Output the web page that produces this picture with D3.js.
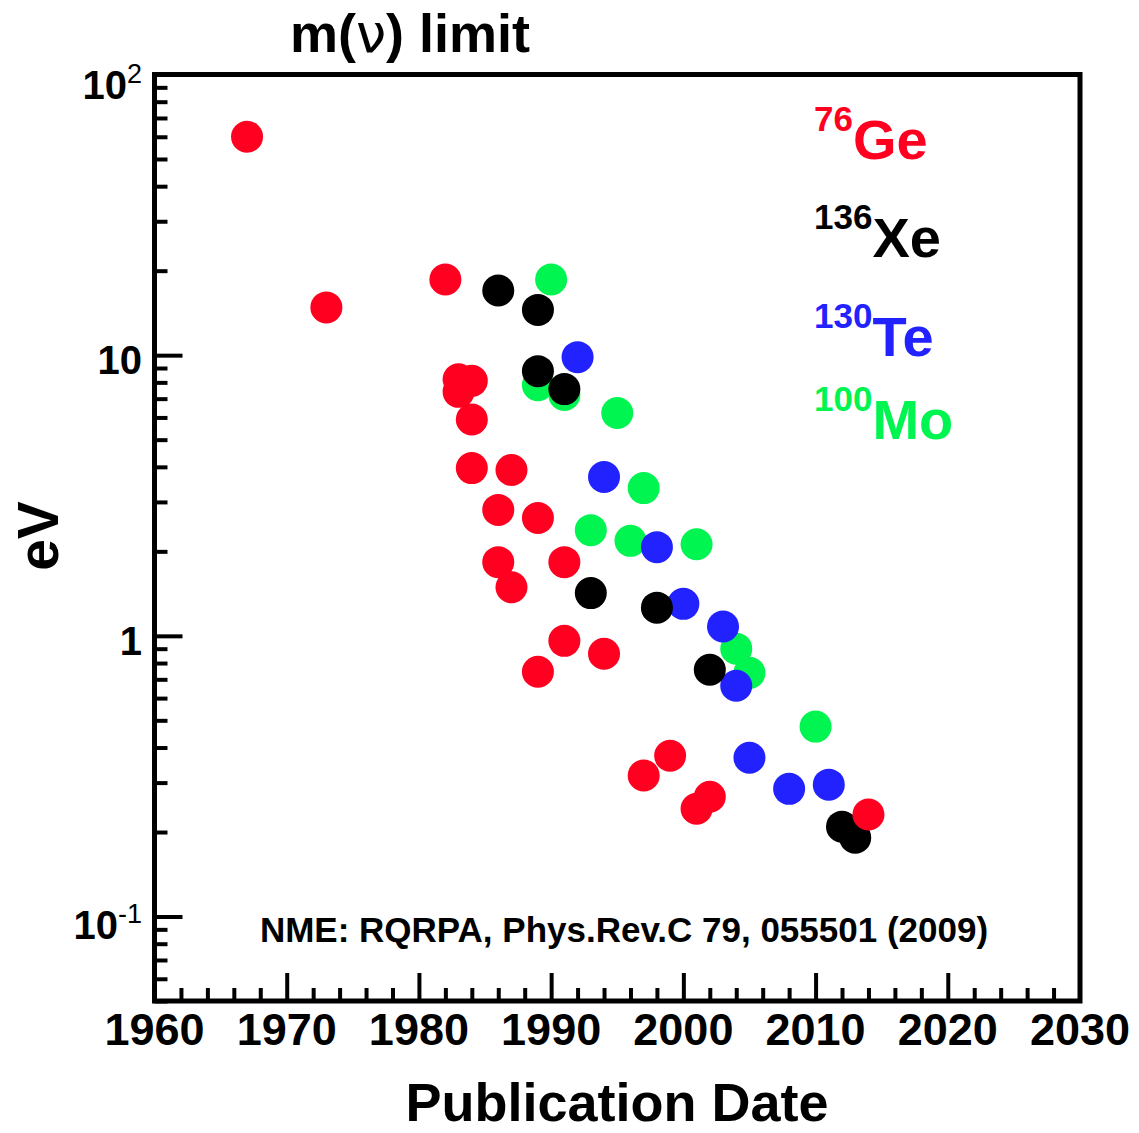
<!DOCTYPE html>
<html>
<head>
<meta charset="utf-8">
<script src="https://cdn.jsdelivr.net/npm/d3@7"></script>
<style>
  body { margin: 0; background: #fff; }
  text { font-family: "Liberation Sans", Arial, Helvetica, sans-serif; font-weight: bold; }
</style>
</head>
<body>
<svg id="chart" width="1139" height="1133"></svg>
<script>
// limits on m(nu) per isotope, by publication year
var geYears  = [1967, 1973, 1982, 1983, 1984, 1983, 1984, 1984, 1987, 1986, 1989, 1986, 1987, 1991, 1991, 1994, 1989, 1999, 1997, 2002, 2001, 2014];
var geValues = [60, 14.8, 18.6, 8.2, 8.1, 7.4, 5.9, 3.96, 3.9, 2.81, 2.63, 1.83, 1.49, 1.83, 0.96, 0.863, 0.745, 0.374, 0.318, 0.267, 0.242, 0.231];

var xeYears  = [1986, 1989, 1989, 1991, 1993, 1998, 2002, 2012, 2013];
var xeValues = [17.0, 14.5, 8.77, 7.57, 1.42, 1.26, 0.757, 0.209, 0.191];

var teYears  = [1992, 1994, 1998, 2000, 2003, 2004, 2005, 2008, 2011];
var teValues = [9.84, 3.68, 2.07, 1.30, 1.08, 0.664, 0.368, 0.285, 0.295];

var moYears  = [1990, 1989, 1991, 1995, 1997, 1993, 1996, 2001, 2004, 2005, 2010];
var moValues = [18.6, 7.82, 7.21, 6.22, 3.36, 2.38, 2.18, 2.12, 0.90, 0.738, 0.475];

var isotopeMass   = ['76', '136', '130', '100'];
var isotopeSymbol = ['Ge', 'Xe', 'Te', 'Mo'];
var isotopeColor  = ['#ff0020', '#000000', '#2222ff', '#00f550'];

var xTickLabels = [1960, 1970, 1980, 1990, 2000, 2010, 2020, 2030];
var yTickValues = [100, 10, 1, 0.1];
var yTickBase   = ['10', '10', '1', '10'];
var yTickExp    = ['2', '', '', '-1'];

var svg = d3.select('#chart');

var pLeft = 154.5, pRight = 1080, pTop = 74.5, pBottom = 1001;

var x = d3.scaleLinear().domain([1960, 2030]).range([pLeft, pRight]);
var y = d3.scaleLog().domain([0.05, 100]).range([pBottom, pTop]);

// ticks (inward)
var minorY = y.ticks().filter(v => yTickValues.indexOf(v) < 0 && v >= 0.05 && v < 100);
svg.append('g')
    .attr('transform', `translate(${pLeft},0)`)
    .call(d3.axisLeft(y).tickValues(minorY).tickSize(-13).tickFormat(''))
    .call(g => g.select('.domain').remove())
    .selectAll('line').attr('stroke', '#000').attr('stroke-width', 4);
svg.append('g')
    .attr('transform', `translate(${pLeft},0)`)
    .call(d3.axisLeft(y).tickValues(yTickValues.filter(v => v < 100)).tickSize(-28).tickFormat(''))
    .call(g => g.select('.domain').remove())
    .selectAll('line').attr('stroke', '#000').attr('stroke-width', 4);

var minorX = d3.range(1962, 2030, 2).filter(v => v % 10 != 0);
svg.append('g')
    .attr('transform', `translate(0,${pBottom})`)
    .call(d3.axisBottom(x).tickValues(minorX).tickSize(-13).tickFormat(''))
    .call(g => g.select('.domain').remove())
    .selectAll('line').attr('stroke', '#000').attr('stroke-width', 4);
svg.append('g')
    .attr('transform', `translate(0,${pBottom})`)
    .call(d3.axisBottom(x).tickValues(xTickLabels.filter(v => v > 1960 && v < 2030)).tickSize(-28).tickFormat(''))
    .call(g => g.select('.domain').remove())
    .selectAll('line').attr('stroke', '#000').attr('stroke-width', 4);

// frame
svg.append('rect')
    .attr('x', pLeft).attr('y', pTop)
    .attr('width', pRight - pLeft).attr('height', pBottom - pTop)
    .attr('fill', 'none').attr('stroke', '#000').attr('stroke-width', 5);

// x tick labels
svg.append('g').selectAll('text')
    .data(xTickLabels)
    .join('text')
    .attr('x', d => x(d))
    .attr('y', 1045)
    .attr('text-anchor', 'middle')
    .attr('font-size', 45)
    .text(d => d);

// y tick labels
var yl = svg.append('g').selectAll('text')
    .data(yTickValues)
    .join('text')
    .attr('x', 142)
    .attr('y', d => y(d) + (d == 100 ? 24 : d == 0.1 ? 22 : 19))
    .attr('text-anchor', 'end')
    .attr('font-size', 40);
yl.append('tspan').text((d, i) => yTickBase[i]);
yl.append('tspan')
    .attr('font-size', 27)
    .attr('font-weight', 'normal')
    .attr('dy', -16)
    .text((d, i) => yTickExp[i]);

// points: Mo, Te, Xe, Ge draw order
var series = [
  {years: moYears, values: moValues, color: isotopeColor[3]},
  {years: teYears, values: teValues, color: isotopeColor[2]},
  {years: xeYears, values: xeValues, color: isotopeColor[1]},
  {years: geYears, values: geValues, color: isotopeColor[0]}
];
series.forEach(s => {
  svg.append('g').selectAll('circle')
      .data(d3.zip(s.years, s.values))
      .join('circle')
      .attr('cx', d => x(d[0]))
      .attr('cy', d => y(d[1]))
      .attr('r', 16)
      .attr('fill', s.color);
});

// legend
var legendY = [159, 257, 356, 439];
isotopeSymbol.forEach((sym, i) => {
  var t = svg.append('text')
      .attr('x', 814)
      .attr('y', legendY[i])
      .attr('fill', isotopeColor[i]);
  t.append('tspan')
      .attr('font-size', 35)
      .attr('dy', -28)
      .text(isotopeMass[i]);
  t.append('tspan')
      .attr('font-size', 56)
      .attr('dy', 28)
      .text(sym);
});

// title
var title = svg.append('text')
    .attr('x', 410).attr('y', 52)
    .attr('text-anchor', 'middle')
    .attr('font-size', 54);
title.append('tspan').text('m(');
title.append('tspan').attr('font-weight', 'normal').attr('font-family', 'DejaVu Sans').text('ν');
title.append('tspan').text(') limit');

// axis titles
svg.append('text')
    .attr('transform', 'translate(58,536) rotate(-90)')
    .attr('text-anchor', 'middle')
    .attr('font-size', 57)
    .text('eV');

svg.append('text')
    .attr('x', 617).attr('y', 1121)
    .attr('text-anchor', 'middle')
    .attr('font-size', 54)
    .text('Publication Date');

svg.append('text')
    .attr('x', 624).attr('y', 942)
    .attr('text-anchor', 'middle')
    .attr('font-size', 35)
    .text('NME: RQRPA, Phys.Rev.C 79, 055501 (2009)');
</script>
</body>
</html>
